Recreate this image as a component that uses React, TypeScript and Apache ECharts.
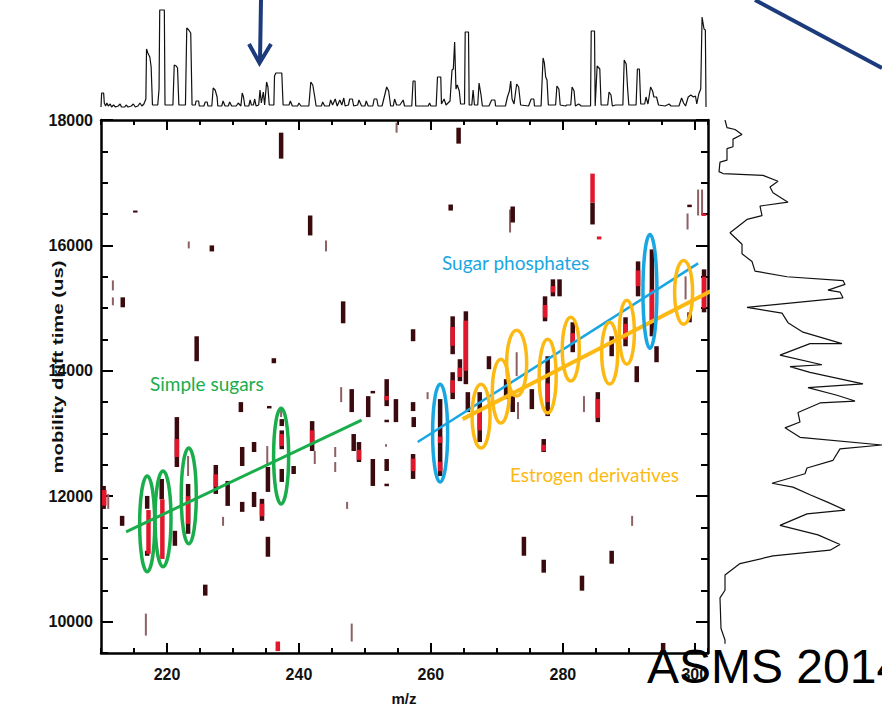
import { useEffect, useRef } from "react";
import * as echarts from "echarts";

// ---- axis ticks ----
const mzLabels = [220, 240, 260, 280, 300];
const driftLabels = [10000, 12000, 14000, 16000, 18000];

// ---- 2D map features: [m/z, drift start (us), drift end (us)] ----
const darkBars = [
  [237.3, 17384, 17798], [215.2, 16525, 16556], [241.7, 16159, 16477], [226.8, 15904, 16000],
  [213.3, 15013, 15172], [246.7, 14758, 15108], [224.5, 14153, 14551], [236.2, 14121, 14201],
  [231.2, 13342, 13501], [235.5, 13400, 13440], [248.0, 13342, 13708], [250.5, 13262, 13596],
  [251.2, 13640, 13680], [253.3, 13437, 13867], [254.7, 13182, 13549], [253.3, 13180, 13220],
  [221.5, 12466, 13262], [221.2, 11210, 11449], [223.2, 11401, 12196], [217.0, 11800, 12005],
  [217.0, 11050, 11130], [219.2, 11950, 12276], [210.4, 11798, 12164], [213.2, 11528, 11687],
  [227.4, 12037, 12498], [229.2, 11846, 12244], [231.4, 12482, 12785], [231.4, 11751, 11910],
  [233.2, 12705, 12864], [233.2, 11830, 12069], [234.4, 11608, 11958], [235.3, 12069, 12466],
  [235.3, 11035, 11353], [237.4, 13119, 13230], [237.4, 12750, 13050], [237.4, 12228, 12435],
  [239.2, 12355, 12482], [242.0, 12721, 13198], [248.3, 12721, 12992], [249.1, 12546, 12864],
  [251.2, 12164, 12594], [253.3, 12403, 12594], [253.3, 12160, 12200], [225.8, 10415, 10590],
  [274.1, 11051, 11353], [277.1, 10781, 10987], [282.9, 10494, 10733], [287.4, 10924, 11130],
  [295.2, 9530, 9660], [264.2, 17623, 17877], [263.0, 16556, 16652], [272.4, 16366, 16620],
  [284.5, 16334, 16684], [299.2, 16610, 16650], [257.3, 14472, 14663], [257.3, 13358, 13501],
  [257.4, 13103, 13262], [257.3, 12276, 12673], [261.4, 12323, 13549], [263.3, 14265, 14869],
  [263.3, 13549, 13978], [264.4, 13835, 14185], [265.3, 13787, 14949], [265.6, 13342, 13660],
  [267.4, 12864, 13660], [268.8, 14026, 14233], [271.4, 13549, 13867], [272.4, 13342, 13596],
  [275.3, 13389, 13708], [277.3, 14790, 15188], [277.7, 13278, 14233], [278.5, 15188, 15459],
  [279.5, 15188, 15459], [277.1, 12705, 12912], [281.5, 14297, 14774], [285.3, 13182, 13660],
  [287.4, 14233, 14551], [289.5, 14392, 14854], [291.4, 15188, 15745], [291.2, 13819, 14074],
  [293.5, 14551, 15936], [294.2, 14137, 14392], [299.2, 14774, 14933], [301.4, 14933, 15618],
];
const lightBars = [
  [254.8, 17798, 17957], [223.3, 15952, 16063], [244.1, 15904, 16079], [211.8, 15283, 15442],
  [211.8, 15045, 15172], [246.4, 13501, 13740], [223.2, 12323, 12641], [211.1, 11798, 12037],
  [228.5, 11528, 11671], [235.2, 12482, 12800], [237.3, 13262, 13420], [242.4, 12514, 12721],
  [245.5, 12626, 12785], [245.5, 12387, 12546], [247.3, 11798, 11910], [253.2, 12790, 12830],
  [216.8, 9778, 10128], [248.0, 9683, 9969], [290.5, 11528, 11687], [272.0, 16206, 16572],
  [298.9, 16254, 16509], [300.5, 16477, 16891], [301.1, 16477, 16891], [259.5, 13549, 13660],
  [273.0, 13915, 14297], [273.2, 13230, 13501], [283.2, 13342, 13596], [298.6, 15140, 15506],
];
const redBars = [
  [253.3, 13530, 13600], [221.5, 12626, 12912], [223.2, 11560, 12000], [217.2, 11083, 11780],
  [219.3, 11000, 11950], [210.5, 11850, 12100], [227.4, 12150, 12350], [234.4, 11680, 11880],
  [237.4, 12800, 12992], [242.0, 12850, 13050], [249.1, 12580, 12740], [236.8, 9530, 9683],
  [284.5, 16684, 17145], [285.5, 16095, 16143], [301.4, 16470, 16510], [257.3, 12400, 12600],
  [261.4, 12400, 12550], [261.4, 12850, 12950], [263.3, 14400, 14700], [263.3, 13650, 13850],
  [264.4, 13900, 14050], [265.3, 14000, 14800], [267.4, 13050, 13350], [277.3, 14850, 15050],
  [277.7, 13500, 13800], [278.5, 15250, 15350], [277.1, 12720, 12820], [281.5, 14450, 14600],
  [285.3, 13250, 13550], [289.5, 14500, 14750], [291.4, 15350, 15600], [293.5, 14800, 15300],
  [301.4, 15000, 15500],
];

// ---- annotation ellipses: [m/z centre, drift centre, half-width (m/z), half-height (us)] ----
const greenEllipses = [
  [217.0, 11560, 1.14, 764], [219.4, 11640, 1.21, 764], [223.3, 12005, 1.14, 764], [237.3, 12641, 1.14, 764],
];
const blueEllipses = [
  [261.4, 13007, 1.14, 780], [293.2, 15268, 1.06, 907],
];
const orangeEllipses = [
  [267.6, 13278, 1.36, 509], [270.6, 13676, 1.29, 509], [273.0, 14122, 1.52, 525], [277.7, 13915, 1.29, 589],
  [281.2, 14345, 1.29, 509], [287.1, 14281, 1.21, 493], [289.7, 14615, 1.14, 509], [298.3, 15252, 1.36, 509],
];

// ---- trend lines: [m/z, drift] ----
const greenFit = [[213.8, 11432], [249.5, 13214]];
const blueFit = [[258.0, 12864], [300.5, 15713]];
const orangeFit = [[264.8, 13230], [303.8, 15347]];

// ---- top marginal mass spectrum: [m/z, intensity] ----
const topSpectrum = [
  [210.0, 2], [210.1, 16], [210.4, 16], [210.5, 6], [210.7, 3], [210.9, 6], [211.1, 3], [211.4, 5], [211.6, 2],
  [211.9, 4], [212.2, 2], [212.6, 3], [212.9, 5], [213.1, 2], [213.6, 2], [213.8, 4], [214.1, 2], [214.6, 3],
  [214.9, 5], [215.2, 2], [215.6, 3], [215.9, 6], [216.2, 3], [216.5, 5], [216.8, 10], [216.9, 60], [217.1, 56],
  [217.4, 52], [217.6, 42], [217.8, 4], [218.6, 4], [218.8, 20], [218.9, 99], [219.6, 99], [219.7, 4], [220.9, 4],
  [221.1, 44], [221.4, 43], [221.6, 41], [221.8, 4], [222.8, 4], [223.0, 81], [223.3, 79], [223.6, 76], [223.8, 4],
  [224.3, 4], [224.4, 8], [224.8, 8], [224.9, 3], [225.6, 3], [225.8, 7], [226.1, 7], [226.2, 3], [226.8, 3],
  [227.0, 21], [227.3, 19], [227.6, 12], [227.7, 3], [228.3, 3], [228.5, 8], [228.8, 3], [229.3, 3], [229.5, 7],
  [229.8, 3], [230.5, 3], [230.8, 6], [231.2, 3], [231.4, 16], [231.6, 12], [231.8, 3], [232.4, 3], [232.6, 9],
  [232.8, 4], [233.1, 4], [233.3, 10], [233.5, 3], [233.9, 4], [234.1, 19], [234.3, 6], [234.6, 17], [234.8, 4],
  [235.1, 27], [235.3, 22], [235.5, 4], [236.2, 4], [236.3, 33], [236.5, 36], [237.4, 36], [237.6, 4], [238.5, 4],
  [238.7, 8], [239.0, 3], [239.8, 3], [240.0, 6], [240.3, 3], [241.5, 3], [241.8, 27], [242.1, 24], [242.4, 12],
  [242.6, 3], [243.4, 3], [243.6, 7], [243.9, 3], [244.6, 3], [244.8, 9], [245.1, 4], [245.5, 10], [245.8, 3],
  [246.2, 9], [246.5, 4], [246.8, 11], [247.0, 3], [247.5, 4], [247.7, 10], [248.1, 10], [248.3, 3], [248.9, 4],
  [249.1, 9], [249.5, 3], [250.0, 3], [250.2, 8], [250.5, 3], [251.2, 3], [251.4, 10], [251.8, 10], [252.0, 3],
  [252.6, 3], [253.3, 22], [253.6, 18], [253.9, 3], [254.3, 3], [254.5, 10], [254.8, 4], [255.3, 4], [255.8, 9],
  [256.0, 3], [257.1, 3], [257.3, 28], [257.6, 28], [257.7, 3], [259.6, 3], [259.8, 6], [260.0, 3], [260.8, 3],
  [261.0, 32], [261.5, 32], [261.6, 5], [262.0, 10], [262.3, 4], [262.9, 8], [263.2, 39], [263.4, 40], [263.6, 67],
  [263.8, 20], [264.0, 24], [264.3, 18], [264.5, 5], [265.1, 5], [265.2, 77], [265.7, 77], [265.8, 4], [266.2, 4],
  [266.4, 19], [266.6, 4], [267.1, 4], [267.3, 26], [267.6, 14], [267.8, 3], [268.8, 3], [269.2, 9], [269.7, 9],
  [269.8, 3], [271.3, 3], [271.6, 12], [271.9, 18], [272.1, 28], [272.3, 10], [272.6, 5], [273.0, 25], [273.3, 22],
  [273.6, 4], [274.8, 3], [275.2, 10], [275.6, 10], [275.7, 3], [276.7, 3], [277.0, 51], [277.2, 46], [277.4, 32],
  [277.6, 29], [277.8, 4], [278.9, 4], [279.1, 23], [279.4, 20], [279.6, 4], [280.4, 3], [280.6, 4], [281.2, 4],
  [281.4, 22], [281.7, 18], [281.9, 3], [282.4, 5], [282.8, 3], [283.4, 3], [284.2, 3], [284.3, 78], [284.8, 78],
  [284.9, 3], [285.2, 43], [285.6, 40], [285.8, 4], [286.8, 4], [287.0, 17], [287.3, 14], [287.5, 3], [288.0, 4],
  [289.1, 4], [289.3, 49], [289.6, 45], [289.8, 22], [290.0, 4], [291.1, 4], [291.3, 40], [291.6, 40], [291.8, 5],
  [292.4, 5], [292.6, 12], [292.9, 5], [293.3, 22], [293.6, 18], [293.8, 12], [294.2, 12], [294.5, 4], [295.5, 3],
  [296.1, 5], [296.4, 3], [297.6, 3], [298.0, 11], [298.3, 6], [298.6, 3], [299.0, 12], [299.4, 14], [299.8, 12],
  [300.1, 13], [300.3, 5], [300.6, 15], [300.9, 20], [301.1, 92], [301.4, 80], [301.6, 79], [301.7, 2],
];

// ---- right marginal mobilogram: [intensity, drift (us)] ----
const sideSpectrum = [
  [8, 18000], [10, 17878], [18, 17848], [25, 17768], [16, 17695], [16, 17573], [10, 17543], [10, 17360],
  [3, 17329], [2, 17177], [6, 17146], [46, 17116], [61, 17024], [53, 16933], [56, 16841], [71, 16689],
  [43, 16628], [45, 16476], [30, 16414], [13, 16201], [25, 16018], [25, 15866], [35, 15744], [38, 15591],
  [70, 15500], [126, 15439], [128, 15378], [111, 15286], [123, 15256], [126, 15164], [30, 15012], [65, 14920],
  [71, 14768], [86, 14616], [125, 14433], [93, 14433], [63, 14250], [105, 14097], [73, 14067], [93, 13975],
  [146, 13793], [91, 13732], [120, 13610], [138, 13518], [103, 13488], [81, 13335], [83, 13183], [68, 13091],
  [83, 12939], [165, 12817], [123, 12756], [116, 12573], [90, 12451], [88, 12359], [55, 12207], [76, 12146],
  [93, 12024], [111, 11902], [128, 11780], [90, 11719], [63, 11536], [101, 11384], [123, 11231], [113, 11140],
  [56, 11048], [23, 10926], [8, 10743], [8, 10500], [3, 10378], [4, 9890], [8, 9707], [8, 9646],
];

const TICK_FONT = { fontFamily: "Liberation Sans", fontWeight: "bold" as const, fontSize: 16, color: "#111" };

function barItem(w: number, fill: string) {
  return (params: any, api: any) => {
    const top = api.coord([api.value(0), api.value(2)]);
    const bot = api.coord([api.value(0), api.value(1)]);
    const cs = params.coordSys;
    const r = echarts.graphic.clipRectByRect(
      { x: top[0] - w / 2, y: top[1], width: w, height: Math.max(bot[1] - top[1], 2) },
      { x: cs.x, y: cs.y, width: cs.width, height: cs.height }
    );
    return r ? { type: "rect", shape: r, style: { fill } } : null;
  };
}

function ellipseItem(stroke: string, lw: number) {
  return (_params: any, api: any) => {
    const c = api.coord([api.value(0), api.value(1)]);
    const s = api.size([api.value(2), api.value(3)]);
    return {
      type: "ellipse",
      shape: { cx: c[0], cy: c[1], rx: s[0], ry: s[1] },
      style: { fill: "none", stroke, lineWidth: lw },
    };
  };
}

export default function App() {
  const ref = useRef<HTMLDivElement>(null);
  useEffect(() => {
    const chart = echarts.init(ref.current!, null, { renderer: "svg" });
    const axisLine = { onZero: false, lineStyle: { color: "#000", width: 2.5 } };
    const tickStyle = { color: "#000", width: 2 };
    const xBase = { type: "value", gridIndex: 0, min: 210, max: 302, splitLine: { show: false } };
    const yBase = { type: "value", gridIndex: 0, min: 9500, max: 18000, splitLine: { show: false } };

    const option: any = {
      animation: false,
      backgroundColor: "#fff",
      grid: [
        { left: 101, top: 120, width: 607, height: 533, outerBoundsMode: "none" },
        { left: 101, top: 9, width: 607, height: 100, outerBoundsMode: "none" },
        { left: 717, top: 120, width: 165, height: 533, outerBoundsMode: "none" },
      ],
      xAxis: [
        {
          ...xBase, position: "bottom", interval: 5, axisLine,
          axisTick: { inside: true, length: 5, lineStyle: tickStyle },
          axisLabel: { ...TICK_FONT, margin: 13, formatter: (v: number) => (v % 20 === 0 ? String(v) : "") },
        },
        {
          ...xBase, position: "bottom", axisLine: { show: false },
          axisTick: { inside: true, length: 10, customValues: mzLabels, lineStyle: tickStyle },
          axisLabel: { show: false },
        },
        {
          ...xBase, position: "top", interval: 5, axisLine,
          axisTick: { inside: true, length: 5, lineStyle: tickStyle }, axisLabel: { show: false },
        },
        {
          ...xBase, position: "top", axisLine: { show: false },
          axisTick: { inside: true, length: 10, customValues: mzLabels, lineStyle: tickStyle },
          axisLabel: { show: false },
        },
        { type: "value", gridIndex: 1, min: 210, max: 302, show: false },
        { type: "value", gridIndex: 2, min: 0, max: 165, show: false },
      ],
      yAxis: [
        {
          ...yBase, position: "left", interval: 500, axisLine,
          axisTick: { inside: true, length: 7, lineStyle: tickStyle },
          axisLabel: { ...TICK_FONT, margin: 8, formatter: (v: number) => (v % 2000 === 0 ? String(v) : "") },
        },
        {
          ...yBase, position: "left", axisLine: { show: false },
          axisTick: { inside: true, length: 12, customValues: driftLabels, lineStyle: tickStyle },
          axisLabel: { show: false },
        },
        {
          ...yBase, position: "right", interval: 500, axisLine,
          axisTick: { inside: true, length: 7, lineStyle: tickStyle }, axisLabel: { show: false },
        },
        {
          ...yBase, position: "right", axisLine: { show: false },
          axisTick: { inside: true, length: 12, customValues: driftLabels, lineStyle: tickStyle },
          axisLabel: { show: false },
        },
        { type: "value", gridIndex: 1, min: 0, max: 100, show: false },
        { type: "value", gridIndex: 2, min: 9500, max: 18000, show: false },
      ],
      series: [
        { type: "custom", name: "weak", xAxisIndex: 0, yAxisIndex: 0, data: lightBars, renderItem: barItem(2, "#8e5f63"), z: 2 },
        { type: "custom", name: "signal", xAxisIndex: 0, yAxisIndex: 0, data: darkBars, renderItem: barItem(4.5, "#3a0a0e"), z: 3 },
        { type: "custom", name: "strong", xAxisIndex: 0, yAxisIndex: 0, data: redBars, renderItem: barItem(4.5, "#e3172c"), z: 4 },
        { type: "line", name: "Simple sugars fit", xAxisIndex: 0, yAxisIndex: 0, data: greenFit, symbol: "none", lineStyle: { color: "#1aad4b", width: 3 }, z: 5 },
        { type: "line", name: "Sugar phosphates fit", xAxisIndex: 0, yAxisIndex: 0, data: blueFit, symbol: "none", lineStyle: { color: "#1aa7e1", width: 2.5 }, z: 5 },
        { type: "line", name: "Estrogen derivatives fit", xAxisIndex: 0, yAxisIndex: 0, data: orangeFit, symbol: "none", clip: false, lineStyle: { color: "#fdb913", width: 4 }, z: 5 },
        { type: "custom", name: "Simple sugars", xAxisIndex: 0, yAxisIndex: 0, data: greenEllipses, renderItem: ellipseItem("#1aad4b", 3.5), z: 6 },
        { type: "custom", name: "Sugar phosphates", xAxisIndex: 0, yAxisIndex: 0, data: blueEllipses, renderItem: ellipseItem("#1aa7e1", 3.5), z: 6 },
        { type: "custom", name: "Estrogen derivatives", xAxisIndex: 0, yAxisIndex: 0, data: orangeEllipses, renderItem: ellipseItem("#fdb913", 3.5), z: 6 },
        { type: "line", name: "mass spectrum", xAxisIndex: 4, yAxisIndex: 4, data: topSpectrum, symbol: "none", lineStyle: { color: "#111", width: 1.2 } },
        { type: "line", name: "mobilogram", xAxisIndex: 5, yAxisIndex: 5, data: sideSpectrum, symbol: "none", lineStyle: { color: "#111", width: 1.2 } },
      ],
      graphic: [
        { type: "text", x: 404, y: 698, z: 50, style: { text: "m/z", font: "bold 15px 'Liberation Sans'", fill: "#111", align: "center", verticalAlign: "middle" } },
        { type: "text", x: 58, y: 367, rotation: Math.PI / 2, scaleX: 1.45, z: 50, style: { text: "mobility drift time (us)", font: "bold 14px 'Liberation Sans'", fill: "#111", align: "center", verticalAlign: "middle" } },
        { type: "text", x: 150, y: 383, z: 50, style: { text: "Simple sugars", font: "19px Lato", fill: "#1aad4b", align: "left", verticalAlign: "middle" } },
        { type: "text", x: 442, y: 262, z: 50, style: { text: "Sugar phosphates", font: "19px Lato", fill: "#1aa7e1", align: "left", verticalAlign: "middle" } },
        { type: "text", x: 510, y: 474, z: 50, style: { text: "Estrogen derivatives", font: "19px Lato", fill: "#fdb913", align: "left", verticalAlign: "middle" } },
        { type: "line", z: 50, shape: { x1: 261, y1: 0, x2: 260, y2: 61 }, style: { stroke: "#1c3b7c", lineWidth: 4 } },
        { type: "polyline", z: 50, shape: { points: [[249, 44], [259.5, 63], [271, 44]] }, style: { stroke: "#1c3b7c", lineWidth: 4, fill: "none" } },
        { type: "line", z: 50, shape: { x1: 755, y1: 0, x2: 882, y2: 68 }, style: { stroke: "#1c3b7c", lineWidth: 4 } },
        { type: "text", x: 647, y: 666, z: 60, style: { text: "ASMS 2014", font: "48px 'Liberation Sans'", fill: "#000", align: "left", verticalAlign: "middle" } },
      ],
    };
    chart.setOption(option);
    return () => chart.dispose();
  }, []);
  return <div ref={ref} style={{ position: "absolute", left: 0, top: 0, width: 882, height: 709, background: "#fff" }} />;
}
